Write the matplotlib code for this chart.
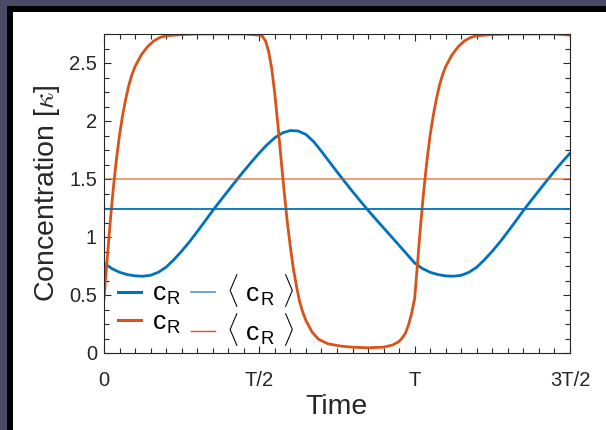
import matplotlib
matplotlib.use("Agg")
import matplotlib.pyplot as plt
from matplotlib.patches import Rectangle
from matplotlib.lines import Line2D
from matplotlib.ticker import MultipleLocator

plt.rcParams.update({'font.family': 'Liberation Sans'})
plt.rcParams.update({'mathtext.fontset': 'cm'})

# blue c_R, sampled every T/40
t_blue = [0.000, 0.025, 0.050, 0.075, 0.100, 0.125, 0.150, 0.175, 0.200, 0.225,
          0.250, 0.275, 0.300, 0.325, 0.350, 0.375, 0.400, 0.425, 0.450, 0.475,
          0.500, 0.525, 0.550, 0.575, 0.600, 0.625, 0.650, 0.675, 0.700, 0.725,
          0.750, 0.775, 0.800, 0.825, 0.850, 0.875, 0.900, 0.925, 0.950, 0.975,
          1.000, 1.025, 1.050, 1.075, 1.100, 1.125, 1.150, 1.175, 1.200, 1.225,
          1.250, 1.275, 1.300, 1.325, 1.350, 1.375, 1.400, 1.425, 1.450, 1.475,
          1.500]
c_blue = [0.776, 0.728, 0.696, 0.676, 0.665, 0.662, 0.670, 0.696, 0.740, 0.805,
          0.878, 0.958, 1.046, 1.136, 1.228, 1.315, 1.400, 1.485, 1.568, 1.648,
          1.725, 1.796, 1.856, 1.898, 1.918, 1.914, 1.884, 1.822, 1.738, 1.650,
          1.562, 1.476, 1.392, 1.310, 1.230, 1.153, 1.078, 1.003, 0.928, 0.852,
          0.776, 0.728, 0.696, 0.676, 0.665, 0.662, 0.670, 0.696, 0.740, 0.805,
          0.878, 0.958, 1.046, 1.136, 1.228, 1.315, 1.400, 1.485, 1.568, 1.648,
          1.722]

# orange c_R
t_orange = [0.00, 0.01, 0.02, 0.03, 0.04, 0.05, 0.06, 0.07, 0.08, 0.09,
            0.10, 0.12, 0.14, 0.16, 0.18, 0.20, 0.25, 0.30, 0.40, 0.45,
            0.50, 0.51, 0.52, 0.53, 0.54, 0.55, 0.56, 0.57, 0.58, 0.59,
            0.60, 0.61, 0.62, 0.63, 0.64, 0.65, 0.67, 0.69, 0.72, 0.76,
            0.80, 0.85, 0.90, 0.93, 0.95, 0.96, 0.97, 0.98, 0.99,
            1.00, 1.01, 1.02, 1.03, 1.04, 1.05, 1.06, 1.07, 1.08, 1.09,
            1.10, 1.12, 1.14, 1.16, 1.18, 1.20, 1.25, 1.30, 1.40, 1.45, 1.50]
c_orange = [0.47, 0.80, 1.13, 1.42, 1.67, 1.88, 2.05, 2.19, 2.31, 2.40,
            2.47, 2.57, 2.64, 2.69, 2.72, 2.735, 2.745, 2.75, 2.75, 2.75,
            2.74, 2.73, 2.69, 2.60, 2.45, 2.23, 1.96, 1.67, 1.39, 1.13,
            0.91, 0.72, 0.57, 0.44, 0.35, 0.28, 0.18, 0.12, 0.08, 0.06,
            0.05, 0.045, 0.05, 0.07, 0.10, 0.13, 0.17, 0.24, 0.34,
            0.47, 0.80, 1.13, 1.42, 1.67, 1.88, 2.05, 2.19, 2.31, 2.40,
            2.47, 2.57, 2.64, 2.69, 2.72, 2.735, 2.745, 2.75, 2.75, 2.75, 2.74]

mean_blue = 1.24
mean_orange = 1.50

xticks = [0, 0.5, 1.0, 1.5]
xticklabels = ['0', 'T/2', 'T', '3T/2']
yticks = [0, 0.5, 1, 1.5, 2, 2.5]
yticklabels = ['0', '0.5', '1', '1.5', '2', '2.5']

blue = '#0072BD'
orange = '#D95319'
lab_c = r'c$_\mathregular{R}$'
lab_mean = r'$\langle$ c$_\mathregular{R}$ $\rangle$'

fig = plt.figure(figsize=(6.06, 4.30), dpi=100, facecolor='#4a4a66')
fig.patches.append(Rectangle((7/606, 0), 1, 424/430, transform=fig.transFigure,
                             facecolor='black', edgecolor='none', zorder=-2))
fig.patches.append(Rectangle((13/606, 0), 1, 418/430, transform=fig.transFigure,
                             facecolor='white', edgecolor='none', zorder=-1))

ax = fig.add_axes([104/606, 77/430, 466/606, 319/430])
ax.set_facecolor('white')

ax.plot(t_blue, c_blue, color=blue, linewidth=2)
ax.plot(t_orange, c_orange, color=orange, linewidth=2)
ax.axhline(mean_blue, color=blue, linewidth=1.3)
ax.axhline(mean_orange, color=orange, alpha=0.6, linewidth=1.3)

ax.set_xlim(0, 1.5)
ax.set_ylim(0, 2.75)
ax.set_xticks(xticks)
ax.set_xticklabels(xticklabels)
ax.set_yticks(yticks)
ax.set_yticklabels(yticklabels)
ax.xaxis.set_minor_locator(MultipleLocator(0.05))
ax.yaxis.set_minor_locator(MultipleLocator(0.125))
ax.tick_params(which='both', direction='in', top=True, right=True,
               color='#262626', labelcolor='#262626', labelsize=14.5)
ax.tick_params(which='major', length=5, width=0.8)
ax.tick_params(which='minor', length=3.5, width=0.8)
ax.tick_params(axis='x', which='major', pad=13)
ax.tick_params(axis='y', which='major', pad=5)
for s in ax.spines.values():
    s.set_color('#262626')
    s.set_linewidth(0.8)

ax.set_xlabel('Time', fontsize=20.5, color='#262626', labelpad=3)
ax.set_ylabel(r'Concentration [$\kappa$]', fontsize=20.5, color='#262626', labelpad=5)

handles = [Line2D([], [], color=blue, linewidth=2.2),
           Line2D([], [], color=orange, linewidth=2.2),
           Line2D([], [], color='#4f9ad6', linewidth=1.2),
           Line2D([], [], color=orange, linewidth=1.0)]
ax.legend(handles, [lab_c, lab_c, lab_mean, lab_mean],
          loc='lower left', bbox_to_anchor=(-0.005, -0.035), ncol=2, frameon=False,
          fontsize=19, handlelength=0.9, handletextpad=0.4, columnspacing=0.4,
          labelspacing=0.1, borderaxespad=0.2)

fig.savefig('out.png', dpi=100, facecolor=fig.get_facecolor())
